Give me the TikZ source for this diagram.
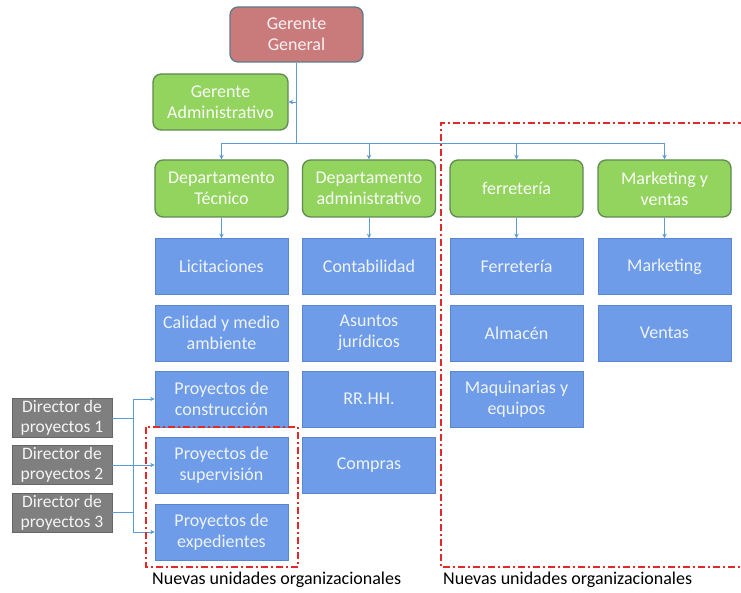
\documentclass[tikz,border=0pt]{standalone}
\usepackage{fontspec}
\setmainfont{Carlito}
\usetikzlibrary{arrows.meta}
\definecolor{redfill}{HTML}{C97A7B}
\definecolor{redline}{HTML}{5E7A8A}
\definecolor{greenfill}{HTML}{92D45E}
\definecolor{greenline}{HTML}{5F8A50}
\definecolor{bluefill}{HTML}{6F9CE8}
\definecolor{blueline}{HTML}{5A86D0}
\definecolor{grayfill}{HTML}{7F7F7F}
\definecolor{connc}{HTML}{5B9BD5}
\definecolor{dashred}{HTML}{E02A2A}
\tikzset{
  boxbase/.style={align=center, inner sep=1pt, font=\fontsize{18}{21}\selectfont},
  redbox/.style={boxbase, fill=redfill, draw=redline, line width=1.3pt, rounded corners=8pt, text=white!90!redfill, minimum width=133pt, minimum height=55pt},
  greenbox/.style={boxbase, fill=greenfill, draw=greenline, line width=1.3pt, rounded corners=8pt, text=white!95!greenfill, minimum width=133pt, minimum height=57pt},
  bluebox/.style={boxbase, fill=bluefill, draw=blueline, line width=0.6pt, text=white!88!bluefill, minimum width=133pt, minimum height=56pt},
  graybox/.style={boxbase, fill=grayfill, draw=grayfill!80!black, line width=0.6pt, text=white!92!grayfill, minimum width=100pt, minimum height=39pt, inner sep=0pt, font=\fontsize{17.5}{20}\selectfont},
  conn/.style={draw=connc, line width=0.8pt},
  arr/.style={conn, -{Stealth[length=4.5pt,width=4.5pt]}},
  newunits/.style={draw=dashred, line width=1.8pt, dash pattern=on 7pt off 3pt on 2pt off 3pt},
  lbl/.style={anchor=west, inner sep=0pt, font=\fontsize{18}{21}\selectfont}
}
\begin{document}
\begin{tikzpicture}[x=1pt,y=-1pt]
\useasboundingbox (0,0) rectangle (741,593);
% top
\node[redbox] (gg) at (296.5,34.5) {Gerente\\General};
\node[greenbox, minimum width=135pt, minimum height=56pt] (ga) at (220.5,102) {Gerente\\Administrativo};
% departments
\node[greenbox] (dt) at (221.5,188.5) {Departamento\\Técnico};
\node[greenbox] (da) at (369,188.5) {Departamento\\administrativo};
\node[greenbox] (fe) at (516.5,188.5) {ferretería};
\node[greenbox] (mv) at (664.5,188.5) {Marketing y\\ventas};
% column 1
\node[bluebox] (lic) at (221.5,266.5) {Licitaciones};
\node[bluebox] (cal) at (221.5,333) {Calidad y medio\\ambiente};
\node[bluebox] (pc) at (221.5,399) {Proyectos de\\construcción};
\node[bluebox] (ps) at (221.5,465) {Proyectos de\\supervisión};
\node[bluebox] (pe) at (221.5,532) {Proyectos de\\expedientes};
% column 2
\node[bluebox] (con) at (369,266.5) {Contabilidad};
\node[bluebox] (asu) at (369,333) {Asuntos\\jurídicos};
\node[bluebox] (rrhh) at (369,399) {RR.HH.};
\node[bluebox] (com) at (369,465) {Compras};
% column 3
\node[bluebox] (fer) at (516.5,266.5) {Ferretería};
\node[bluebox] (alm) at (516.5,333) {Almacén};
\node[bluebox] (maq) at (516.5,399) {Maquinarias y\\equipos};
% column 4
\node[bluebox] (mkt) at (664.5,266.5) {Marketing};
\node[bluebox] (ven) at (664.5,333) {Ventas};
% directors
\node[graybox] (d1) at (62,418) {Director de\\proyectos 1};
\node[graybox] (d2) at (62,465) {Director de\\proyectos 2};
\node[graybox] (d3) at (62,512.5) {Director de\\proyectos 3};
% connectors top
\coordinate (bus) at (296.5,143);
\draw[conn] (gg.south) -- (bus);
\draw[arr] (gg.south |- ga.east) -- (ga.east);
\draw[conn] (dt.north |- bus) -- (mv.north |- bus);
\draw[arr] (dt.north |- bus) -- (dt.north);
\draw[arr] (da.north |- bus) -- (da.north);
\draw[arr] (fe.north |- bus) -- (fe.north);
\draw[arr] (mv.north |- bus) -- (mv.north);
\draw[arr] (dt.south) -- (lic.north);
\draw[arr] (da.south) -- (con.north);
\draw[arr] (fe.south) -- (fer.north);
\draw[arr] (mv.south) -- (mkt.north);
% director connectors
\coordinate (vt) at (133,399);
\coordinate (vb) at (133,532);
\draw[conn] (vt) -- (vb);
\draw[conn] (d1.east) -- (d1.east -| vt);
\draw[conn] (d3.east) -- (d3.east -| vt);
\draw[arr] (vt) -- (pc.west);
\draw[arr] (d2.east) -- (ps.west);
\draw[arr] (vb) -- (pe.west);
% dashed regions
\draw[newunits] (146,427) rectangle (298,567);
\draw[newunits] (745,123) -- (441,123) -- (441,567) -- (745,567);
% labels
\node[lbl] (l1) at (152,580) {Nuevas unidades organizacionales};
\node[lbl] (l2) at (443,580) {Nuevas unidades organizacionales};
\end{tikzpicture}
\end{document}
